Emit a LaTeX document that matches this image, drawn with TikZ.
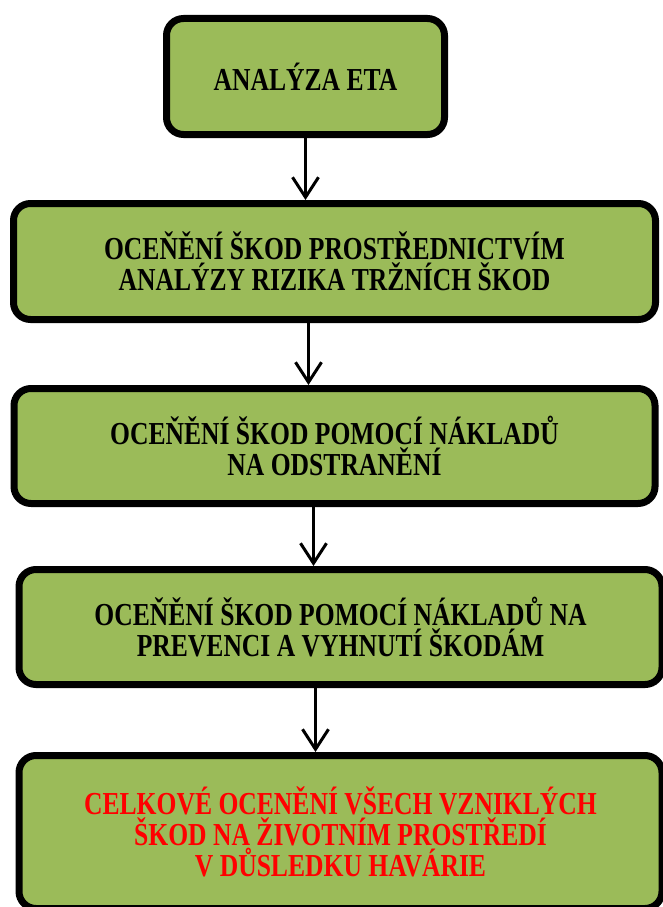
\documentclass[tikz,border=0pt]{standalone}
\usepackage{fontspec}
\setmainfont{Liberation Serif}[FakeStretch=0.8]
\usetikzlibrary{positioning,arrows.meta}

\definecolor{olive}{HTML}{9BBB59}
\definecolor{alarm}{HTML}{FF0000}

\tikzset{
    stage/.style={draw, line width=7pt, rounded corners=17pt, fill=olive, align=center,
        font=\fontsize{32}{31}\selectfont\bfseries},
    flow/.style={line width=3pt, -{Straight Barb[length=20pt, width=26pt, line width=3pt]}}
}

\begin{document}
\begin{tikzpicture}
    \useasboundingbox (0,0) rectangle (663pt,-907pt);
    \clip (0,0) rectangle (663pt,-907pt);

    \node[stage, minimum width=278pt, minimum height=116pt] (eta) at (305.5pt,-76.5pt) {ANALÝZA ETA};
    \node[stage, minimum width=642pt, minimum height=116pt, below=62pt of eta, xshift=29pt] (market) {OCEŇĚNÍ ŠKOD PROSTŘEDNICTVÍM\\ANALÝZY RIZIKA TRŽNÍCH ŠKOD};
    \node[stage, minimum width=641pt, minimum height=115pt, below=62pt of market] (removal) {OCEŇĚNÍ ŠKOD POMOCÍ NÁKLADŮ\\NA ODSTRANĚNÍ};
    \node[stage, minimum width=643pt, minimum height=115pt, below=59pt of removal, xshift=6pt] (prevention) {OCEŇĚNÍ ŠKOD POMOCÍ NÁKLADŮ NA\\PREVENCI A VYHNUTÍ ŠKODÁM};
    \node[stage, minimum width=643pt, minimum height=153pt, below=64pt of prevention, text=alarm] (total) {CELKOVÉ OCENĚNÍ VŠECH VZNIKLÝCH\\ŠKOD NA ŽIVOTNÍM PROSTŘEDÍ\\V DŮSLEDKU HAVÁRIE};

    \draw[flow] (eta.south) -- (eta.south |- market.north);
    \draw[flow] ([xshift=-26pt]market.south) -- ([xshift=-26pt]market.south |- removal.north);
    \draw[flow] ([xshift=-21pt]removal.south) -- ([xshift=-21pt]removal.south |- prevention.north);
    \draw[flow] ([xshift=-25pt]prevention.south) -- ([xshift=-25pt]prevention.south |- total.north);
\end{tikzpicture}
\end{document}
